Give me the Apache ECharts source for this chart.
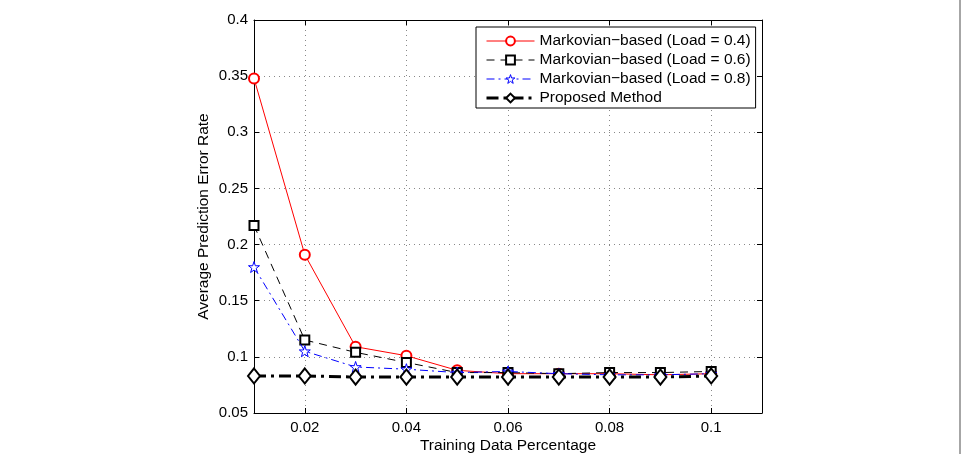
<!DOCTYPE html>
<html>
<head>
<meta charset="utf-8">
<script src="https://cdn.jsdelivr.net/npm/echarts@6/dist/echarts.min.js"></script>
<style>
  html, body { margin: 0; padding: 0; background: #fff; }
  #main { width: 970px; height: 454px; }
</style>
</head>
<body>
<div id="main"></div>
<script>
// training data percentage (x) and error rates
var xVals = [0.01, 0.02, 0.03, 0.04, 0.05, 0.06, 0.07, 0.08, 0.09, 0.1];
var load04 = [0.348, 0.191, 0.109, 0.101, 0.088, 0.085, 0.085, 0.085, 0.084, 0.085];
var load06 = [0.217, 0.115, 0.104, 0.095, 0.086, 0.086, 0.085, 0.086, 0.086, 0.087];
var load08 = [0.180, 0.105, 0.091, 0.089, 0.086, 0.087, 0.085, 0.084, 0.084, 0.085];
var proposed = [0.083, 0.083, 0.082, 0.082, 0.082, 0.082, 0.082, 0.082, 0.082, 0.083];
var xTicks = [0.02, 0.04, 0.06, 0.08, 0.1];
var seriesNames = [
  'Markovian\u2212based (Load = 0.4)',
  'Markovian\u2212based (Load = 0.6)',
  'Markovian\u2212based (Load = 0.8)',
  'Proposed Method'
];

function pairs(ys) {
  return xVals.map(function (x, i) { return [x, ys[i]]; });
}

var FONT = '"Liberation Sans", Arial, sans-serif';
var starPath = 'path://M50,0 L61.8,35.1 L97.6,34.5 L69,56.2 L79.4,90.5 L50,70 L20.6,90.5 L31,56.2 L2.4,34.5 L38.2,35.1 Z';

var chart = echarts.init(document.getElementById('main'));

var gridLine = { show: true, lineStyle: { color: '#888', type: [1, 4], width: 1 } };
var frameLine = { show: true, onZero: false, lineStyle: { color: '#000', width: 1 } };

var option = {
  backgroundColor: '#fff',
  animation: false,
  textStyle: { fontFamily: FONT },
  grid: { left: 254, top: 20, width: 508, height: 393, containLabel: false, outerBoundsMode: 'none' },
  legend: {
    orient: 'vertical',
    left: 476,
    top: 27,
    padding: [6, 5, 2, 9],
    itemGap: 3,
    itemWidth: 48,
    itemHeight: 11,
    backgroundColor: '#fff',
    borderColor: '#000',
    borderWidth: 1,
    lineStyle: { width: 'inherit' },
    itemStyle: { borderWidth: 'inherit' },
    textStyle: { fontFamily: FONT, fontSize: 15.5, color: '#000' },
    data: seriesNames
  },
  xAxis: [{
    type: 'value',
    min: 0.01,
    max: 0.11,
    name: 'Training Data Percentage',
    nameLocation: 'middle',
    nameGap: 25,
    nameMoveOverlap: false,
    nameTextStyle: { fontFamily: FONT, fontSize: 15.5, color: '#000' },
    axisLine: frameLine,
    axisTick: { show: true, inside: true, length: 5, customValues: xTicks, lineStyle: { color: '#000' } },
    axisLabel: { customValues: xTicks, fontFamily: FONT, fontSize: 15, color: '#000', margin: 7 },
    splitLine: gridLine
  }, {
    type: 'value',
    position: 'top',
    min: 0.01,
    max: 0.11,
    axisLine: frameLine,
    axisTick: { show: true, inside: true, length: 5, customValues: xTicks, lineStyle: { color: '#000' } },
    axisLabel: { show: false },
    splitLine: { show: false }
  }],
  yAxis: [{
    type: 'value',
    min: 0.05,
    max: 0.4,
    interval: 0.05,
    name: 'Average Prediction Error Rate',
    nameLocation: 'middle',
    nameGap: 42,
    nameMoveOverlap: false,
    nameTextStyle: { fontFamily: FONT, fontSize: 15.5, color: '#000' },
    axisLine: frameLine,
    axisTick: { show: true, inside: true, length: 5, lineStyle: { color: '#000' } },
    axisLabel: { fontFamily: FONT, fontSize: 15, color: '#000', margin: 6 },
    splitLine: gridLine
  }, {
    type: 'value',
    position: 'right',
    min: 0.05,
    max: 0.4,
    interval: 0.05,
    axisLine: frameLine,
    axisTick: { show: true, inside: true, length: 5, lineStyle: { color: '#000' } },
    axisLabel: { show: false },
    splitLine: { show: false }
  }],
  graphic: [{
    type: 'line',
    shape: { x1: 960, y1: 0, x2: 960, y2: 454 },
    style: { stroke: '#888', lineWidth: 1.5 },
    silent: true
  }],
  series: [{
    name: seriesNames[0],
    type: 'line',
    data: pairs(load04),
    color: '#ff0000',
    symbol: 'emptyCircle',
    symbolSize: 10,
    lineStyle: { color: '#ff0000', width: 1, type: 'solid' },
    itemStyle: { color: '#ff0000', borderWidth: 1 },
    z: 2
  }, {
    name: seriesNames[1],
    type: 'line',
    data: pairs(load06),
    color: '#000',
    symbol: 'emptyRect',
    symbolSize: 9,
    lineStyle: { color: '#000', width: 1, type: [8, 6] },
    itemStyle: { color: '#000', borderWidth: 1 },
    z: 3
  }, {
    name: seriesNames[2],
    type: 'line',
    data: pairs(load08),
    color: '#0000ff',
    symbol: starPath,
    symbolSize: 11,
    lineStyle: { color: '#0000ff', width: 1, type: [8, 4, 2, 4] },
    itemStyle: { color: '#fff', borderColor: '#0000ff', borderWidth: 1 },
    z: 4
  }, {
    name: seriesNames[3],
    type: 'line',
    data: pairs(proposed),
    color: '#000',
    symbol: 'emptyDiamond',
    symbolSize: [12, 15],
    lineStyle: { color: '#000', width: 3, type: [12, 5, 3, 5] },
    itemStyle: { color: '#000', borderWidth: 3 },
    z: 5
  }]
};

chart.setOption(option);
</script>
</body>
</html>
